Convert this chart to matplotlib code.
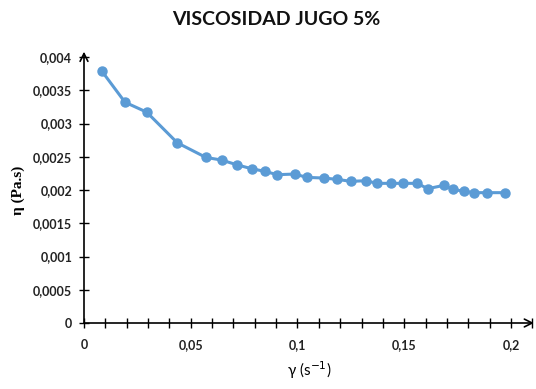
import matplotlib
matplotlib.use("Agg")
import matplotlib.pyplot as plt
from matplotlib.ticker import MultipleLocator, FuncFormatter

# shear rate (1/s) and viscosity (Pa.s)
shear_rate = [0.0083, 0.0192, 0.0294, 0.0437, 0.0571, 0.0645, 0.0715, 0.0785,
              0.0848, 0.0905, 0.0988, 0.1043, 0.1124, 0.1185, 0.1251, 0.1321,
              0.1372, 0.1438, 0.1494, 0.1560, 0.1611, 0.1686, 0.1728, 0.1780,
              0.1827, 0.1888, 0.1972]
viscosity = [0.00379, 0.00332, 0.00317, 0.00271, 0.00249, 0.00245, 0.00238, 0.00232,
             0.00228, 0.00223, 0.00224, 0.00219, 0.00218, 0.00216, 0.00213, 0.00214,
             0.00210, 0.00210, 0.00210, 0.00210, 0.00202, 0.00207, 0.00201, 0.00198,
             0.00196, 0.00196, 0.00196]

title = "VISCOSIDAD JUGO 5%"
blue = "#5B9BD5"

plt.rcParams["font.family"] = ["Lato", "DejaVu Sans"]

fig = plt.figure(figsize=(5.36, 3.89), dpi=100)
ax = fig.add_axes([84 / 536, 66 / 389, 450 / 536, 266 / 389])

ax.plot(shear_rate, viscosity, color=blue, linewidth=2.2, marker="o",
        markersize=6.5, markeredgecolor=blue, zorder=3)

ax.set_xlim(0, 0.2108)
ax.set_ylim(0, 0.004)

for s in ax.spines.values():
    s.set_visible(False)

# axis lines with arrow heads
ax.annotate("", xy=(1.0, 0), xytext=(0, 0), xycoords="axes fraction",
            arrowprops=dict(arrowstyle="->", color="black", lw=1.2,
                            mutation_scale=14, shrinkA=0, shrinkB=0), clip_on=False)
ax.annotate("", xy=(0, 1.02), xytext=(0, 0), xycoords="axes fraction",
            arrowprops=dict(arrowstyle="->", color="black", lw=1.2,
                            mutation_scale=14, shrinkA=0, shrinkB=0), clip_on=False)

ax.xaxis.set_major_locator(MultipleLocator(0.05))
ax.xaxis.set_minor_locator(MultipleLocator(0.01))
ax.yaxis.set_major_locator(MultipleLocator(0.0005))

def comma(v, pos):
    if abs(v) < 1e-12:
        return "0"
    return ("%g" % round(v, 6)).replace(".", ",")

ax.xaxis.set_major_formatter(FuncFormatter(comma))
ax.yaxis.set_major_formatter(FuncFormatter(comma))

ax.tick_params(axis="both", which="both", direction="inout", length=7, width=1.0,
               labelsize=9)
ax.tick_params(axis="x", which="major", pad=8)
ax.tick_params(axis="y", which="major", pad=5)
for lab in ax.get_xticklabels() + ax.get_yticklabels():
    lab.set_fontweight("bold")
    lab.set_color("#222222")

ax.set_xlabel("γ (s$^{-1}$)", fontsize=11, labelpad=6)
ax.set_ylabel("η (Pa.s)", fontsize=11, fontweight="bold",
              family=["Liberation Serif", "DejaVu Serif"], labelpad=6)

fig.text(0.515, 0.95, title, ha="center", va="center", fontsize=14,
         fontweight="bold", color="#111111")

fig.savefig("out.png", dpi=100)
